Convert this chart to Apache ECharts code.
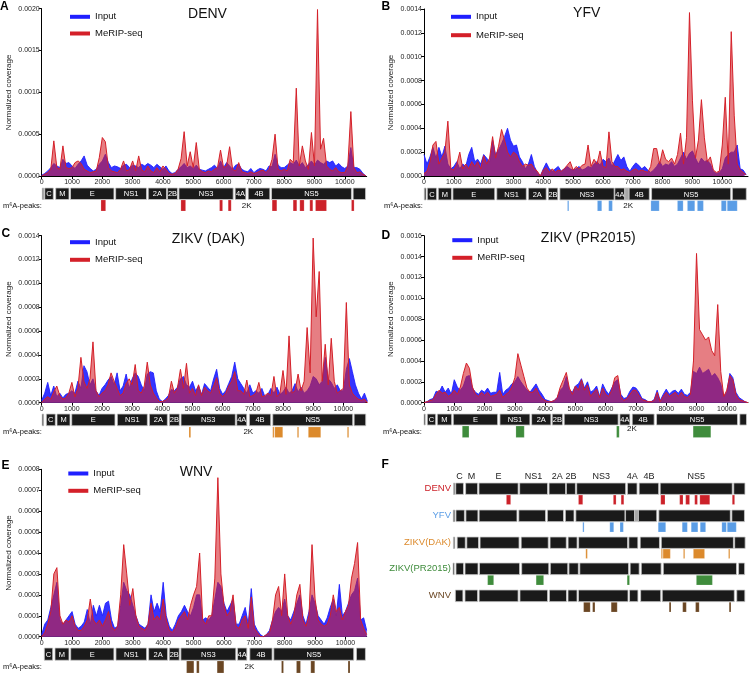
<!DOCTYPE html>
<html><head><meta charset="utf-8">
<script src="https://cdn.jsdelivr.net/npm/echarts/dist/echarts.min.js"></script>
<style>html,body{margin:0;padding:0;background:#fff}#c{width:750px;height:673px}</style>
</head><body><div id="c"></div>
<script>
const FONT = '"Liberation Sans", Arial, Helvetica, sans-serif';

// genome positions (nt) of the coverage samples
const NT = [0,100,200,300,400,500,600,700,800,900,1000,1100,1200,1300,1400,1500,1600,1700,1800,1900,
2000,2100,2200,2300,2400,2500,2600,2700,2800,2900,3000,3100,3200,3300,3400,3500,3600,3700,3800,3900,
4000,4100,4200,4300,4400,4500,4600,4700,4800,4900,5000,5100,5200,5300,5400,5500,5600,5700,5800,5900,
6000,6100,6200,6300,6400,6500,6600,6700,6800,6900,7000,7100,7200,7300,7400,7500,7600,7700,7800,7900,
8000,8100,8200,8300,8400,8500,8600,8700,8800,8900,9000,9100,9200,9300,9400,9500,9600,9700,9800,9900,
10000,10100,10200,10300,10400,10500,10600,10700,10800];
const xTicks = [0,1000,2000,3000,4000,5000,6000,7000,8000,9000,10000];

// normalized coverage, in units of 0.0001
const denvInput = [0.1,0.3,0.6,1.0,1.5,1.2,1.0,2.0,1.5,1.6, 1.2,0.9,1.4,1.8,2.4,1.3,0.9,0.6,0.8,1.4,
1.8,2.6,1.6,1.0,1.2,1.1,0.9,1.3,1.4,1.0, 1.3,1.2,1.0,1.4,1.2,1.5,1.3,1.0,1.4,1.1,
0.8,1.2,0.6,0.3,0.4,0.8,1.1,1.5,1.0,1.2, 0.9,1.3,0.8,0.7,0.6,0.8,1.0,1.3,0.9,1.8,
1.0,1.6,1.2,0.8,1.3,1.4,0.8,0.6,0.5,0.9, 0.4,0.7,0.9,0.8,0.6,1.2,1.1,2.6,1.3,1.0,
1.0,1.3,1.6,1.4,1.9,1.2,1.6,1.0,1.4,1.8, 1.3,1.9,1.6,1.4,1.8,1.6,1.8,1.2,1.5,1.1,
0.9,1.2,3.4,1.0,1.0,0.8,0.3,0.0];
const denvMerip = [0.0,0.2,0.4,0.8,4.2,1.0,0.8,3.6,1.0,0.9, 1.0,1.6,1.8,1.5,0.8,0.6,0.4,0.5,0.6,2.2,
4.6,4.1,1.0,0.6,0.5,0.4,0.8,1.8,0.6,0.8, 1.8,0.6,2.4,0.7,0.5,1.2,0.6,0.4,1.0,0.5,
1.2,0.8,0.3,0.2,0.3,0.8,2.1,5.3,1.2,2.9, 1.0,4.0,0.8,0.5,0.4,0.6,0.5,0.8,1.0,3.1,
1.0,1.2,3.5,0.8,0.6,1.6,0.5,0.4,0.3,0.5, 0.3,0.4,0.6,0.7,0.4,0.8,2.0,5.0,0.8,0.6,
0.8,0.6,2.0,1.6,10.5,1.2,3.6,1.8,0.8,5.2, 1.2,19.9,3.2,4.5,1.2,0.8,0.6,1.0,0.5,0.4,
0.4,1.2,7.7,1.0,0.4,0.5,0.2,0.0];

const yfvInput = [1.8,1.0,1.6,2.4,1.5,2.4,1.6,2.5,1.0,0.6, 0.8,1.2,0.6,1.0,0.8,1.8,2.4,1.2,1.4,1.0,
1.8,1.5,1.2,3.0,1.8,2.2,2.7,3.3,4.0,3.0, 2.5,2.6,1.6,1.2,0.6,1.0,1.8,0.8,0.3,0.0,
0.6,1.1,0.6,0.4,0.6,0.8,0.4,0.6,0.8,0.6, 0.5,0.6,0.8,0.5,0.6,0.8,0.7,1.0,1.2,0.9,
1.4,1.2,1.5,0.8,1.3,1.8,1.3,1.6,0.8,0.4, 0.8,1.1,0.9,0.6,0.8,0.5,0.3,0.5,0.8,1.2,
0.8,1.0,0.9,1.2,0.8,1.0,1.5,2.0,1.4,1.9, 2.1,1.5,1.0,1.5,1.2,1.3,1.0,0.4,0.2,0.3,
0.6,1.5,1.8,2.0,2.0,2.6,0.6,0.5,0.1];
const yfvMerip = [0.2,0.4,1.2,2.6,2.9,1.0,1.5,2.0,4.6,0.6, 0.5,1.0,2.0,0.6,1.0,0.6,1.2,0.8,1.2,0.6,
1.7,1.0,1.5,3.3,1.5,2.5,3.9,3.0,2.0,1.6, 2.0,1.8,1.2,0.8,1.0,0.9,1.0,0.6,0.4,0.0,
0.5,0.7,0.3,0.6,0.3,0.5,0.4,0.6,0.9,1.2, 0.5,0.8,0.6,0.9,1.0,2.6,0.8,1.4,1.0,2.1,
0.8,0.7,3.7,1.2,0.8,0.8,0.5,0.6,0.4,0.3, 0.5,0.6,0.4,0.5,0.4,0.3,0.8,2.3,2.3,1.0,
2.2,1.4,1.2,1.5,1.0,1.8,3.6,1.0,3.2,13.7, 6.3,1.5,3.0,6.4,3.2,1.2,1.6,0.5,0.3,0.4,
2.6,6.6,1.0,12.1,5.1,1.0,0.5,0.3,0.1];

const dakInput = [0.2,0.8,1.7,0.6,1.4,0.5,0.8,0.4,0.7,0.8, 1.0,0.8,1.8,1.2,3.1,2.6,1.5,2.0,1.0,0.6,
1.2,1.5,1.9,2.2,1.5,2.5,1.0,1.4,2.4,1.2, 2.0,2.5,2.2,1.5,1.0,2.4,2.6,2.5,1.0,0.3,
0.1,0.3,0.6,1.1,1.0,1.3,2.0,2.2,1.5,1.3, 1.8,1.0,1.4,0.7,1.6,1.3,1.0,2.0,2.8,1.2,
0.7,1.0,1.6,2.2,3.4,2.0,1.6,1.2,0.8,1.5, 0.8,1.0,0.8,1.2,0.5,0.7,1.2,0.8,1.3,0.7,
0.9,1.3,0.8,1.0,1.6,0.9,1.3,0.8,1.0,1.4, 2.2,2.0,1.5,1.8,3.8,2.0,1.7,1.2,1.5,1.0,
1.0,2.8,3.7,2.6,1.5,0.8,0.3,0.8,0.1];
const dakMerip = [0.0,0.3,0.5,0.3,0.9,1.4,0.6,0.3,0.4,0.8, 1.7,0.5,1.2,3.8,1.8,1.2,2.0,5.1,1.0,0.5,
0.8,1.0,1.5,2.5,1.8,1.2,0.6,0.8,1.6,2.0, 1.5,3.2,1.0,0.8,1.4,3.4,1.5,0.8,0.4,0.1,
0.1,0.2,0.4,1.8,0.8,1.2,2.8,1.2,3.3,0.8, 1.2,0.6,1.5,0.6,1.3,1.0,0.8,1.4,2.1,0.8,
0.5,0.8,1.4,1.8,2.6,1.0,1.0,0.7,1.9,0.5, 0.6,0.8,1.7,0.5,0.6,0.8,0.6,2.2,0.5,0.8,
2.7,0.7,5.6,0.8,1.0,2.4,1.0,1.8,6.3,2.5, 13.8,7.2,11.0,1.8,4.9,1.5,5.4,1.8,0.8,1.0,
1.2,8.4,1.5,0.8,0.5,0.3,0.2,0.3,0.0];

const prInput = [0.0,0.1,0.3,0.4,1.1,1.0,1.6,1.0,1.4,0.8, 2.2,1.5,1.2,1.6,2.5,2.6,1.4,1.0,0.8,1.2,
1.0,1.4,0.9,1.0,1.0,2.9,0.8,1.2,1.4,1.8, 2.0,2.5,2.0,1.6,1.2,1.0,1.4,1.8,1.2,0.8,
0.3,0.2,0.1,0.2,0.5,1.2,1.5,2.5,1.2,1.0, 1.6,1.8,2.3,1.4,2.0,1.0,1.2,1.6,0.6,1.8,
1.2,0.8,1.4,2.0,2.2,0.8,0.4,0.5,1.1,1.5, 1.4,1.0,0.4,0.3,0.1,0.1,0.3,1.2,0.2,0.8,
1.3,0.8,1.1,1.2,0.9,1.3,0.8,0.7,1.0,3.0, 2.8,3.4,2.8,3.0,3.2,2.5,2.8,2.4,1.8,0.6,
1.0,2.8,2.4,1.0,0.5,0.3,0.1,0.0];
const prMerip = [0.0,0.1,0.2,0.3,0.8,1.2,0.9,1.0,0.6,0.8, 1.2,0.8,1.5,2.8,3.8,3.3,1.5,0.8,0.6,1.0,
0.7,1.0,0.6,0.7,0.8,1.2,0.5,0.8,1.0,1.5, 2.4,4.7,3.6,2.5,1.4,1.0,1.0,1.4,0.8,0.4,
0.2,0.1,0.1,0.2,0.5,1.5,2.2,2.9,1.4,0.8, 1.6,1.2,2.2,1.2,1.7,0.6,1.0,1.3,0.5,1.4,
0.8,0.6,1.2,2.4,2.6,0.6,0.2,0.4,0.8,1.2, 1.2,0.7,0.3,0.2,0.1,0.1,0.2,1.0,0.1,0.6,
1.0,0.6,0.8,1.0,0.6,1.0,0.6,0.5,0.8,4.0, 14.3,7.0,6.5,6.0,6.3,5.0,4.5,9.4,3.0,0.6,
1.2,2.6,2.2,0.8,0.3,0.2,0.1,0.0];

const wnvInput = [0.1,0.6,0.8,1.4,2.0,2.6,0.8,0.6,0.8,1.0, 1.2,0.6,0.4,0.5,0.7,1.3,0.6,1.5,1.0,1.5,
1.0,1.6,1.7,0.8,0.4,0.5,1.5,2.6,2.2,2.0, 1.5,1.0,0.6,0.5,0.4,0.6,2.0,1.2,1.6,1.2,
2.6,1.0,0.5,0.3,0.6,1.0,1.2,1.5,1.2,1.0, 1.4,2.0,2.0,0.8,0.9,0.8,1.0,1.8,2.6,2.4,
1.6,1.2,1.5,1.8,0.6,0.6,1.0,1.4,0.6,2.3, 0.6,0.3,0.1,0.0,0.1,0.3,0.8,1.2,1.4,1.2,
1.8,1.0,0.8,1.2,1.6,2.0,1.0,0.6,1.2,2.0, 1.6,1.0,0.8,0.6,0.9,1.4,1.8,1.0,2.5,1.0,
1.2,1.6,2.0,2.2,2.8,0.8,0.9,0.3];
const wnvMerip = [0.0,0.2,0.6,1.2,3.0,3.3,1.0,0.6,0.8,0.7, 1.0,0.5,0.3,0.3,0.5,0.8,1.8,0.8,0.6,0.8,
0.5,0.8,1.2,0.5,0.3,0.5,2.0,4.4,3.0,1.5, 2.3,1.0,0.5,0.4,0.3,0.6,1.6,0.8,1.0,0.8,
1.8,0.8,0.3,0.2,0.4,0.8,1.0,1.2,0.8,1.5, 2.0,2.4,4.0,0.8,0.6,1.0,1.0,2.8,7.6,3.0,
1.5,1.0,1.2,2.0,0.5,0.4,0.8,1.0,0.4,1.9, 0.4,0.2,0.0,0.0,0.1,0.2,0.8,2.0,2.4,1.0,
3.0,1.0,0.6,1.0,2.0,2.5,0.8,0.5,1.0,4.4, 1.8,0.8,0.6,0.5,0.6,1.0,2.0,1.2,1.4,0.8,
1.2,1.5,2.8,3.5,4.5,0.8,0.4,0.1];

// y tick labels (units of 0.0001)
const denvYTicks = [0,5,10,15,20];
const yfvYTicks = [0,2,4,6,8,10,12,14];
const dakYTicks = [0,2,4,6,8,10,12,14];
const prYTicks = [0,2,4,6,8,10,12,14,16];
const wnvYTicks = [0,1,2,3,4,5,6,7,8];

// genome annotation: [label, start nt, end nt, optional fill]
const denvGenes = [['',20,65],['C',100,383],['M',462,900],['E',950,2384],['NS1',2440,3460],['2A',3515,4120],['2B',4150,4480],['NS3',4527,6318],['4A',6383,6736],['4B',6812,7527],['NS5',7583,10220],['',10275,10685]];
const yfvGenes = [['',10,67],['C',110,423],['M',478,924],['E',969,2372],['NS1',2439,3431],['2A',3497,4098],['2B',4165,4486],['NS3',4553,6374],['4A',6397,6731],['',6731,6876,'#a8a8a8'],['4B',6876,7554],['NS5',7630,10281],['',10337,10805]];
const dakGenes = [['',15,65],['C',153,452],['M',507,939],['E',995,2430],['NS1',2507,3503],['2A',3569,4166],['2B',4232,4564],['NS3',4619,6420],['4A',6466,6798],['4B',6884,7593],['NS5',7660,10312],['',10358,10743]];
const prGenes = [['',0,35],['C',109,386],['M',439,914],['E',967,2432],['NS1',2508,3498],['2A',3554,4191],['2B',4234,4577],['NS3',4630,6412],['4A',6469,6799],['4B',6876,7601],['NS5',7680,10353],['',10429,10650]];
const wnvGenes = [['C',86,362],['M',437,898],['E',954,2378],['NS1',2444,3454],['2A',3520,4145],['2B',4200,4530],['NS3',4582,6391],['4A',6447,6754],['4B',6852,7586],['NS5',7641,10273],['',10362,10658]];

// m6A peaks: [start nt, end nt]
const denvPeaks = [[1955,2110],[4593,4748],[5869,5968],[6153,6252],[7603,7758],[8296,8417],[8516,8658],[8846,8945],[9034,9397],[10221,10307]];
const yfvPeaks = [[4811,4845],[5814,5958],[6192,6315],[7607,7885],[8497,8687],[8831,9077],[9165,9366],[9967,10134],[10167,10501]];
const dakPeaks = [[4884,4940],[7659,7692],[7725,7991],[8475,8521],[8840,9251],[10133,10179]];
const prPeaks = [[1265,1485],[3036,3310],[6360,6446],[8888,9472]];
const wnvPeaks = [[4770,5010],[5099,5184],[5776,5997],[7895,7961],[8388,8520],[8859,8990],[10086,10151]];

const panels = [
  {name:'DENV', fName:'DENV', input:denvInput, merip:denvMerip, yTicks:denvYTicks, genes:denvGenes, peaks:denvPeaks, max:10723, k2:6760, color:'#cc2129'},
  {name:'YFV', fName:'YFV', input:yfvInput, merip:yfvMerip, yTicks:yfvYTicks, genes:yfvGenes, peaks:yfvPeaks, max:10862, k2:6846, color:'#5a9de6'},
  {name:'ZIKV (DAK)', fName:'ZIKV(DAK)', input:dakInput, merip:dakMerip, yTicks:dakYTicks, genes:dakGenes, peaks:dakPeaks, max:10775, k2:6850, color:'#dc8a2c'},
  {name:'ZIKV (PR2015)', fName:'ZIKV(PR2015)', input:prInput, merip:prMerip, yTicks:prYTicks, genes:prGenes, peaks:prPeaks, max:10700, k2:6865, color:'#3f8c3c'},
  {name:'WNV', fName:'WNV', input:wnvInput, merip:wnvMerip, yTicks:wnvYTicks, genes:wnvGenes, peaks:wnvPeaks, max:10700, k2:6840, color:'#6a4623'}
];

// layout (pixels)
const L = [
  {left:41.7, top:8.7, width:325, height:167.3, gTop:188, gH:23, bar:0.5, pk:0.52, k2y:0.77, leg:[70,11.8,6.7], title:[207.5,14], letter:['A',0,6.5], m6a:[3,205.7]},
  {left:424, top:9, width:324, height:167, gTop:188, gH:23, bar:0.52, pk:0.55, k2y:0.77, leg:[451,11.8,8.4], title:[586.7,13], letter:['B',381.5,6.5], m6a:[384,205.7]},
  {left:41.7, top:235.7, width:325, height:167, gTop:414, gH:23.5, bar:0.5, pk:0.55, k2y:0.75, leg:[70,237.2,7.6], title:[208.3,239.5], letter:['C',1.5,234], m6a:[3,432]},
  {left:424, top:235.7, width:324, height:167, gTop:414, gH:23.5, bar:0.47, pk:0.51, k2y:0.64, leg:[452.3,235.2,7.6], title:[588.3,238], letter:['D',381.5,235.5], m6a:[383,432]},
  {left:41.7, top:469.3, width:325, height:167.4, gTop:648, gH:25, bar:0.49, pk:0.52, k2y:0.75, leg:[68.3,468.5,7.3], title:[196,472.5], letter:['E',1.5,466], m6a:[3,667]}
];
const FL = [{top:483,h:21.5},{top:510,h:22},{top:537,h:21.5},{top:563,h:22},{top:590,h:22}];
const F_LEFT = 453, F_WIDTH = 293, F_BAR = 0.53, F_PK = 0.56;

const grid = [], xAxis = [], yAxis = [], series = [], legend = [], graphic = [];

function txt(text, x, y, size, color, align, bold) {
  return {type:'text', x:0, y:0, silent:true, style:{text, x, y, fill:color, textFill:color,
    font:(bold?'bold ':'') + size + 'px ' + FONT, fontSize:size, fontWeight:bold?'bold':'normal', fontFamily:FONT,
    align:align, textAlign:align, verticalAlign:'middle', textVerticalAlign:'middle'}};
}

function geneSeries(genes, ai, barFrac, inside, above) {
  return {type:'custom', xAxisIndex:ai, yAxisIndex:ai, silent:true, animation:false,
    data: genes.map(g => [g[1], g[2], 0]), encode:{x:[0,1], y:2},
    renderItem(params, api) {
      const g = genes[params.dataIndex];
      const a = api.coord([api.value(0), 0]);
      const b = api.coord([api.value(1), barFrac]);
      const x = a[0], y = a[1], w = Math.max(b[0]-a[0], 1.2), h = b[1]-a[1];
      const ch = [{type:'rect', shape:{x, y, width:w, height:h}, style:{fill:g[3] || '#1a1a1a', stroke:'#c9c9c9', lineWidth:0.8}}];
      if (inside && g[0]) ch.push({type:'text', style:{text:g[0], x:x+w/2, y:y+h/2+0.5, fill:'#fff', fontSize:7.5, fontFamily:FONT, align:'center', verticalAlign:'middle'}});
      if (above && g[0]) ch.push({type:'text', style:{text:g[0], x:x+w/2, y:y-6, fill:'#222', fontSize:9, fontFamily:FONT, align:'center', verticalAlign:'middle'}});
      return {type:'group', children:ch};
    }};
}
function peakSeries(peaks, ai, from, color) {
  return {type:'custom', xAxisIndex:ai, yAxisIndex:ai, silent:true, animation:false,
    data: peaks.map(p => [p[0], p[1], 0]), encode:{x:[0,1], y:2},
    renderItem(params, api) {
      const a = api.coord([api.value(0), from]);
      const b = api.coord([api.value(1), 1]);
      return {type:'rect', shape:{x:a[0], y:a[1], width:Math.max(b[0]-a[0], 1.3), height:b[1]-a[1]},
        style:{fill:color, stroke:'rgba(255,255,255,0.35)', lineWidth:0.5}};
    }};
}
function hiddenAxes(gi, max) {
  xAxis.push({gridIndex:gi, type:'value', min:0, max:max, show:false});
  yAxis.push({gridIndex:gi, type:'value', min:0, max:1, inverse:true, show:false});
}

panels.forEach((p, i) => {
  const l = L[i];
  // coverage grid
  const gi = grid.length;
  grid.push({left:l.left, top:l.top, width:l.width, height:l.height, containLabel:false});
  xAxis.push({gridIndex:gi, type:'value', min:0, max:p.max, interval:1000,
    axisLine:{show:true, onZero:false, lineStyle:{color:'#000', width:1}},
    axisTick:{show:true, length:3, lineStyle:{color:'#000'}, customValues:xTicks},
    axisLabel:{show:true, fontSize:7, color:'#222', margin:2.5, fontFamily:FONT, customValues:xTicks,
      formatter: v => String(v)},
    splitLine:{show:false}});
  const yt = p.yTicks;
  yAxis.push({gridIndex:gi, type:'value', min:0, max:yt[yt.length-1], interval:yt[1]-yt[0],
    axisLine:{show:true, onZero:false, lineStyle:{color:'#000', width:1}},
    axisTick:{show:true, length:3, lineStyle:{color:'#000'}, customValues:yt},
    axisLabel:{show:true, fontSize:7, color:'#222', margin:2, fontFamily:FONT, customValues:yt,
      formatter: v => (v / 10000).toFixed(4)},
    splitLine:{show:false},
    name:'Normalized coverage', nameLocation:'middle', nameGap:29,
    nameTextStyle:{fontSize:8, color:'#222', fontFamily:FONT}});
  series.push({name:'Input', type:'line', xAxisIndex:gi, yAxisIndex:gi, showSymbol:false, symbol:'none',
    animation:false, silent:true, z:2, color:'#1f1fff',
    data: p.input.map((v, k) => [NT[k], v]),
    lineStyle:{color:'#1f1fff', width:0.9}, areaStyle:{color:'#3434ff', opacity:1}});
  series.push({name:'MeRIP-seq', type:'line', xAxisIndex:gi, yAxisIndex:gi, showSymbol:false, symbol:'none',
    animation:false, silent:true, z:3, color:'#d42029',
    data: p.merip.map((v, k) => [NT[k], v]),
    lineStyle:{color:'#d42029', width:1}, areaStyle:{color:'#d42029', opacity:0.58}});
  legend.push({left:l.leg[0], top:l.leg[1], orient:'vertical', itemWidth:20, itemHeight:4, itemGap:l.leg[2],
    icon:'rect', padding:0, selectedMode:false, data:['Input','MeRIP-seq'],
    textStyle:{fontSize:9.5, color:'#111', fontFamily:FONT}});

  // genome track grid
  const ti = grid.length;
  grid.push({left:l.left, top:l.gTop, width:l.width, height:l.gH});
  hiddenAxes(ti, p.max);
  series.push(geneSeries(p.genes, ti, l.bar, true, false));
  series.push(peakSeries(p.peaks, ti, l.pk, p.color));
  series.push({type:'custom', xAxisIndex:ti, yAxisIndex:ti, silent:true, animation:false,
    data:[[p.k2, l.k2y]], encode:{x:0, y:1},
    renderItem(params, api) {
      const c = api.coord([api.value(0), api.value(1)]);
      return {type:'text', style:{text:'2K', x:c[0], y:c[1], fill:'#111', fontSize:8, fontFamily:FONT, align:'center', verticalAlign:'middle'}};
    }});

  graphic.push(txt(p.name, l.title[0], l.title[1], 14, '#111', 'center', false));
  graphic.push(txt(l.letter[0], l.letter[1], l.letter[2], 12, '#000', 'left', true));
  graphic.push(txt('m\u2076A-peaks:', l.m6a[0], l.m6a[1], 7.5, '#111', 'left', false));
});

// Panel F: all genomes together
panels.forEach((p, i) => {
  const f = FL[i];
  const fi = grid.length;
  grid.push({left:F_LEFT, top:f.top, width:F_WIDTH, height:f.h});
  hiddenAxes(fi, p.max);
  series.push(geneSeries(p.genes, fi, F_BAR, false, i === 0));
  series.push(peakSeries(p.peaks, fi, F_PK, p.color));
  graphic.push(txt(p.fName, 451, f.top + f.h * F_BAR / 2, 9.5, p.color, 'right', false));
});
graphic.push(txt('F', 381.5, 465, 12, '#000', 'left', true));

const chart = echarts.init(document.getElementById('c'), null, {renderer:'canvas'});
chart.setOption({animation:false, backgroundColor:'#fff', grid, xAxis, yAxis, series, legend, graphic});
</script>
</body></html>
